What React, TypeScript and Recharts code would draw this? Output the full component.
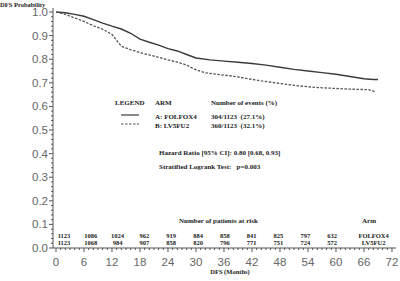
import React from 'react';
import { ComposedChart, Line, Scatter, XAxis, YAxis } from 'recharts';

const folfoxMonths = [0, 2, 4, 6, 8, 10, 12, 14, 16, 18, 20, 22, 24, 26, 28, 30, 33, 36, 39, 42, 45, 48, 51, 54, 57, 60, 63, 66, 68, 69];
const folfoxSurv = [1.0, 0.997, 0.99, 0.982, 0.968, 0.953, 0.94, 0.928, 0.91, 0.885, 0.872, 0.86, 0.845, 0.835, 0.82, 0.805, 0.797, 0.792, 0.787, 0.782, 0.775, 0.766, 0.757, 0.75, 0.743, 0.736, 0.727, 0.717, 0.714, 0.714];

const lv5fu2Months = [0, 2, 4, 6, 8, 10, 12, 13, 14, 16, 18, 20, 22, 24, 26, 28, 30, 32, 35, 38, 41, 44, 47, 50, 53, 56, 59, 62, 65, 67, 68, 68.5];
const lv5fu2Surv = [1.0, 0.99, 0.975, 0.96, 0.942, 0.927, 0.905, 0.88, 0.855, 0.84, 0.828, 0.818, 0.808, 0.797, 0.788, 0.775, 0.755, 0.742, 0.735, 0.728, 0.718, 0.708, 0.7, 0.692, 0.685, 0.68, 0.677, 0.674, 0.672, 0.671, 0.665, 0.66];

const riskMonths = [0, 6, 12, 18, 24, 30, 36, 42, 48, 54, 60];
const folfoxAtRisk = [1123, 1086, 1024, 962, 919, 884, 858, 841, 825, 797, 632];
const lv5fu2AtRisk = [1123, 1068, 984, 907, 858, 820, 796, 771, 751, 724, 572];
const armNames = ['FOLFOX4', 'LV5FU2'];

const xTickLabels = [0, 6, 12, 18, 24, 30, 36, 42, 48, 54, 60, 66, 72];
const yTickLabels = [0.0, 0.1, 0.2, 0.3, 0.4, 0.5, 0.6, 0.7, 0.8, 0.9, 1.0];

const folfoxData = folfoxMonths.map((m, i) => ({ x: m, y: folfoxSurv[i] }));
const lv5fu2Data = lv5fu2Months.map((m, i) => ({ x: m, y: lv5fu2Surv[i] }));
const ROW1 = 0.051;
const ROW2 = 0.021;
const ARM_POS = 69.3;
const riskData = [
  ...riskMonths.map((m, i) => ({ x: m, y: ROW1, n: String(folfoxAtRisk[i]) })),
  ...riskMonths.map((m, i) => ({ x: m, y: ROW2, n: String(lv5fu2AtRisk[i]) })),
  { x: ARM_POS, y: ROW1, n: armNames[0] },
  { x: ARM_POS, y: ROW2, n: armNames[1] },
];

const xMinor: number[] = [];
for (let i = 0; i <= 72; i++) xMinor.push(i);
const yMinor: number[] = [];
for (let i = 0; i <= 50; i++) yMinor.push(Math.round(i * 2) / 100);

const serif = '"Liberation Serif", "DejaVu Serif", serif';
const sans = '"Liberation Sans", Arial, sans-serif';
const axisColor = '#555';

const XTick = (props: any) => {
  const { x, y, payload } = props;
  const v = payload.value;
  const major = xTickLabels.includes(v);
  return (
    <g>
      <line x1={x} x2={x} y1={y} y2={y + (major ? 4 : 2)} stroke={axisColor} strokeWidth={1} />
      {major && (
        <text x={x} y={y + 18} textAnchor="middle" fontFamily={sans} fontSize={11.5} fill="#666">
          {v}
        </text>
      )}
    </g>
  );
};

const YTick = (props: any) => {
  const { x, y, payload } = props;
  const v = payload.value;
  const major = yTickLabels.some((t) => Math.abs(t - v) < 1e-6);
  return (
    <g>
      <line x1={x} x2={x - (major ? 4 : 2)} y1={y} y2={y} stroke={axisColor} strokeWidth={1} />
      {major && (
        <text x={x - 5} y={y + 4} textAnchor="end" fontFamily={sans} fontSize={11.5} fill="#666">
          {v.toFixed(1)}
        </text>
      )}
    </g>
  );
};

const RiskText = (props: any) => {
  const { cx, cy, payload } = props;
  return (
    <text x={cx} y={cy + 2} textAnchor="middle" fontFamily={serif} fontWeight="bold" fontSize={6.5} fill="#222">
      {payload.n}
    </text>
  );
};

const T = ({ x, y, children, size = 7, anchor = 'start' }: any) => (
  <text x={x} y={y} fontFamily={serif} fontWeight="bold" fontSize={size} fill="#222" textAnchor={anchor} style={{ whiteSpace: 'pre' }}>
    {children}
  </text>
);

export default function App() {
  return (
    <div style={{ position: 'absolute', left: 0, top: 0, width: 400, height: 281, background: '#fff' }}>
      <ComposedChart width={400} height={281} margin={{ top: 8, right: 4, bottom: 0, left: 0 }}>
        <XAxis
          xAxisId="main"
          dataKey="x"
          type="number"
          domain={[-0.64, 72.86]}
          allowDataOverflow
          ticks={xMinor}
          interval={0}
          height={33}
          tickLine={false}
          tickSize={0}
          tickMargin={0}
          axisLine={{ stroke: axisColor, strokeWidth: 1 }}
          tick={XTick}
        />
        <XAxis xAxisId="risk" dataKey="x" type="number" domain={[-2.46, 74.3]} allowDataOverflow hide />
        <XAxis
          xAxisId="top"
          orientation="top"
          dataKey="x"
          type="number"
          domain={[0, 1]}
          height={0}
          tick={false}
          tickLine={false}
          axisLine={{ stroke: '#999', strokeWidth: 2 }}
        />
        <YAxis
          yAxisId="main"
          dataKey="y"
          type="number"
          domain={[0, 1.017]}
          allowDataOverflow
          ticks={yMinor}
          interval={0}
          width={53}
          tickLine={false}
          tickSize={0}
          tickMargin={0}
          axisLine={{ stroke: axisColor, strokeWidth: 1 }}
          tick={YTick}
        />
        <YAxis
          yAxisId="right"
          orientation="right"
          type="number"
          domain={[0, 1]}
          width={0}
          tick={false}
          tickLine={false}
          axisLine={{ stroke: '#999', strokeWidth: 2 }}
        />
        <Line
          xAxisId="main"
          yAxisId="main"
          data={folfoxData}
          dataKey="y"
          type="linear"
          stroke="#3a3a3a"
          strokeWidth={1.4}
          dot={false}
          isAnimationActive={false}
        />
        <Line
          xAxisId="main"
          yAxisId="main"
          data={lv5fu2Data}
          dataKey="y"
          type="linear"
          stroke="#555"
          strokeWidth={1.3}
          strokeDasharray="2.5 1.5"
          dot={false}
          isAnimationActive={false}
        />
        <Scatter
          xAxisId="risk"
          yAxisId="main"
          data={riskData}
          dataKey="y"
          shape={RiskText}
          isAnimationActive={false}
        />
      </ComposedChart>
      <svg width={400} height={281} style={{ position: 'absolute', left: 0, top: 0, pointerEvents: 'none' }}>
        <T x={0} y={6.5} size={6.5}>DFS Probability</T>
        <T x={230} y={274} size={6.5} anchor="middle">DFS (Months)</T>
        <T x={115} y={105}>LEGEND</T>
        <T x={155} y={105}>ARM</T>
        <T x={211} y={105}>Number of events (%)</T>
        <line x1={121} x2={139} y1={115} y2={115} stroke="#3a3a3a" strokeWidth={1.2} />
        <line x1={121} x2={139} y1={124} y2={124} stroke="#555" strokeWidth={1.2} strokeDasharray="2.5 1.5" />
        <T x={155} y={119}>A: FOLFOX4</T>
        <T x={155} y={128}>B: LV5FU2</T>
        <T x={211} y={119}>{'304/1123  (27.1%)'}</T>
        <T x={211} y={128}>{'360/1123  (32.1%)'}</T>
        <T x={159} y={155}>Hazard Ratio [95% CI]: 0.80 [0.68, 0.93]</T>
        <T x={159} y={169}>{'Stratified Logrank Test:   p=0.003'}</T>
        <T x={179} y={223}>Number of patients at risk</T>
        <T x={362} y={223}>Arm</T>
      </svg>
    </div>
  );
}
